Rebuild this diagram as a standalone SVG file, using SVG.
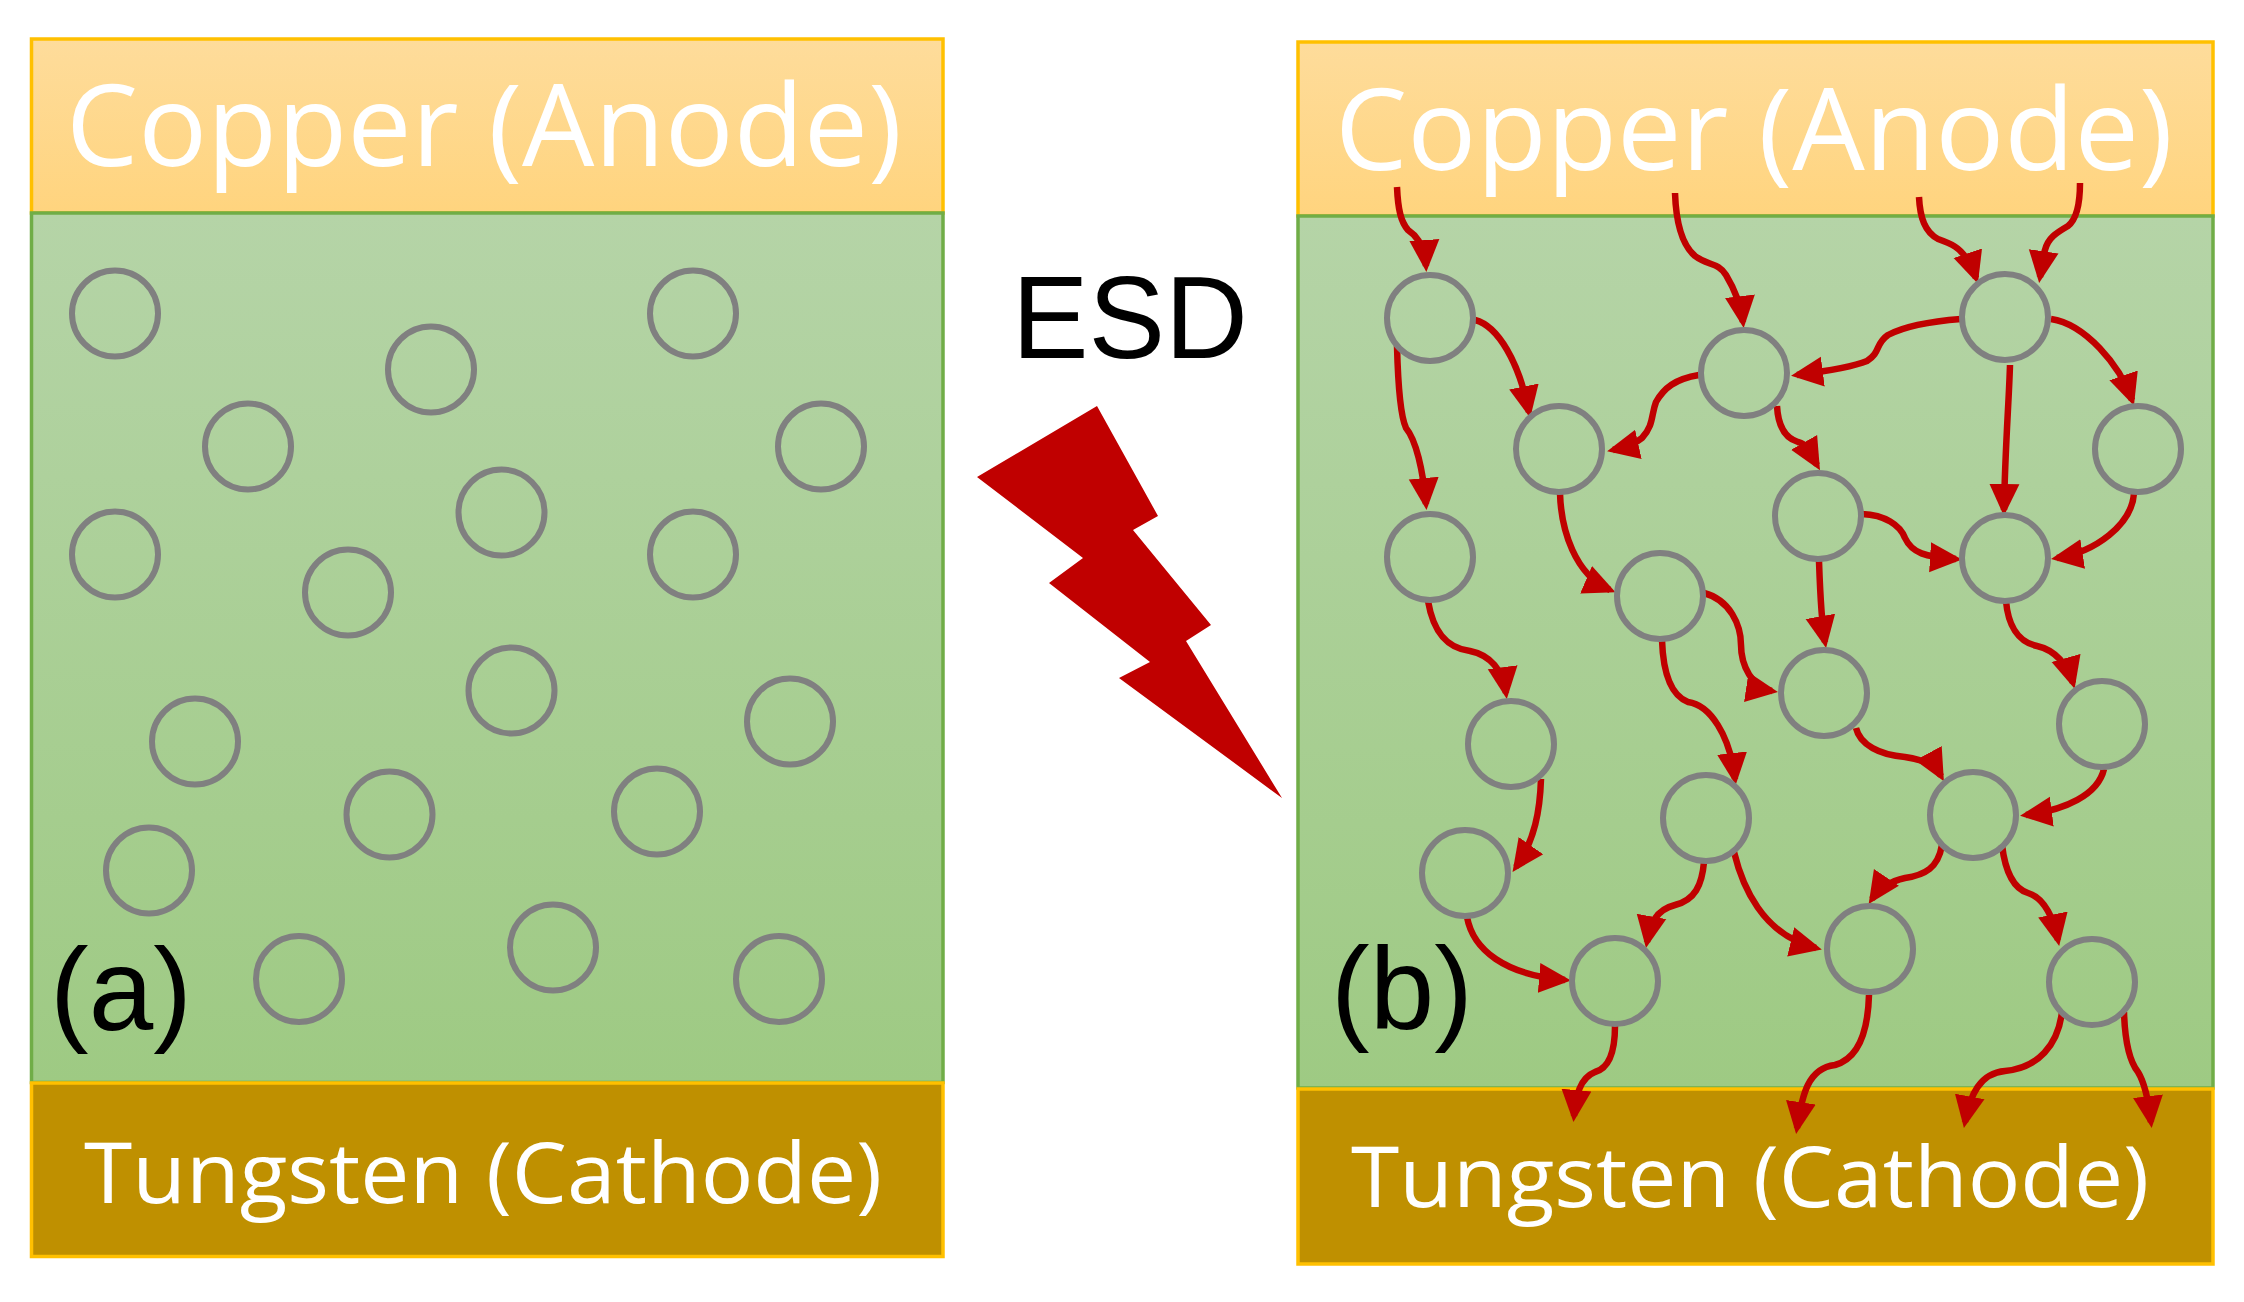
<svg xmlns="http://www.w3.org/2000/svg" width="2244" height="1302" viewBox="0 0 2244 1302">
<style>
.cu{fill:url(#cuG);stroke:#FFC000;stroke-width:3.5}
.ox{fill:url(#oxG);stroke:#70AD47;stroke-width:3.5}
.w{fill:#BF9000;stroke:#FFC000;stroke-width:3.5}
.lab{font-family:"Open Sans","Noto Sans",sans-serif;fill:#fff}
.tag{font-family:"Liberation Sans",Arial,sans-serif;fill:#000;font-size:116px}
.v{fill:none;stroke:#808080;stroke-width:6}
.c path{fill:none;stroke:#C00000;stroke-width:6.5;marker-end:url(#ah)}
</style>
<defs>
<linearGradient id="cuG" x1="0" y1="0" x2="0" y2="1"><stop offset="0" stop-color="#FEDC9B"/><stop offset="1" stop-color="#FFD47E"/></linearGradient>
<linearGradient id="oxG" x1="0" y1="0" x2="0" y2="1"><stop offset="0" stop-color="#B5D4A7"/><stop offset="1" stop-color="#9ECA83"/></linearGradient>
<marker id="ah" markerUnits="userSpaceOnUse" markerWidth="32" markerHeight="32" refX="26" refY="16" orient="auto"><path d="M0,1 L32,16 L0,31 z" fill="#C00000"/></marker>
</defs>
<rect width="2244" height="1302" fill="#fff"/>

<g id="panel-a">
<rect id="a-copper" class="cu" x="31.500" y="39" width="911.500" height="174"/>
<rect id="a-oxide" class="ox" x="31.500" y="213" width="911.500" height="869.500"/>
<rect id="a-tungsten" class="w" x="31.500" y="1083" width="911.500" height="173.500"/>
<text class="lab" x="66" y="166" font-size="113" textLength="836" lengthAdjust="spacingAndGlyphs">Copper (Anode)</text>
<text class="lab" x="84" y="1203" font-size="85" textLength="798" lengthAdjust="spacingAndGlyphs">Tungsten (Cathode)</text>
<text class="tag" x="50" y="1030">(a)</text>
</g>
<g id="a-vacancies">
<circle class="v" cx="115" cy="313.500" r="43"/><circle class="v" cx="693" cy="313.500" r="43"/><circle class="v" cx="431" cy="369.500" r="43"/><circle class="v" cx="248" cy="446.500" r="43"/><circle class="v" cx="821" cy="446.500" r="43"/><circle class="v" cx="501.500" cy="512.500" r="43"/><circle class="v" cx="115" cy="554.500" r="43"/><circle class="v" cx="693" cy="554.500" r="43"/><circle class="v" cx="348" cy="592.500" r="43"/><circle class="v" cx="511.500" cy="690.500" r="43"/><circle class="v" cx="790" cy="721.500" r="43"/><circle class="v" cx="195" cy="741.500" r="43"/><circle class="v" cx="389.500" cy="814.500" r="43"/><circle class="v" cx="657" cy="811.500" r="43"/><circle class="v" cx="149" cy="870.500" r="43"/><circle class="v" cx="553" cy="947.500" r="43"/><circle class="v" cx="299" cy="979" r="43"/><circle class="v" cx="779" cy="979" r="43"/>
</g>

<g id="panel-b">
<rect id="b-copper" class="cu" x="1298" y="42" width="915" height="174"/>
<rect id="b-oxide" class="ox" x="1298" y="216" width="915" height="872"/>
<rect id="b-tungsten" class="w" x="1298" y="1089" width="915" height="175"/>
<text class="lab" x="1335" y="170" font-size="113" textLength="838" lengthAdjust="spacingAndGlyphs">Copper (Anode)</text>
<text class="lab" x="1351" y="1207" font-size="85" textLength="798" lengthAdjust="spacingAndGlyphs">Tungsten (Cathode)</text>
<text class="tag" x="1331" y="1029">(b)</text>
</g>

<g id="esd">
<text x="1012" y="358" font-family="'Liberation Sans',Arial,sans-serif" font-size="116" fill="#000" textLength="236" lengthAdjust="spacingAndGlyphs">ESD</text>
<polygon points="1097,406 1158,516 1133,530 1211,625 1186,641 1282,798 1119,678 1150,662 1049,583 1083,558 977,477" fill="#C00000"/>
</g>

<g id="connectors" class="c">
<path d="M1397,187 C1398,210 1401,222 1408,230 C1420,238 1425,250 1426,266"/>
<path d="M1475,320 C1498,326 1519,362 1529,412"/>
<path d="M1397,346 C1398,385 1400,415 1406,428 C1416,440 1423,470 1426,504"/>
<path d="M1675,193 C1676,222 1682,245 1695,256 C1708,266 1718,262 1726,275 C1735,290 1741,305 1743,322"/>
<path d="M1919,197 C1920,218 1925,232 1938,239 C1952,244 1960,248 1966,258 C1971,266 1974,272 1976,278"/>
<path d="M2080,183 C2080,200 2078,218 2068,226 C2056,233 2048,238 2045,250 C2042,260 2041,270 2040,277"/>
<path d="M1961,319 C1935,321 1905,326 1888,335 C1875,344 1881,352 1867,361 C1850,368 1820,372 1797,375"/>
<path d="M1699,375 C1675,379 1664,388 1656,402 C1651,415 1654,425 1642,438 C1635,444 1622,448 1613,450"/>
<path d="M2051,319 C2085,324 2120,365 2132,400"/>
<path d="M2010,365 C2009,400 2005,450 2004,510"/>
<path d="M2134,493 C2132,525 2095,552 2057,558"/>
<path d="M1777,406 C1778,425 1785,438 1798,442 C1810,445 1813,458 1817,465"/>
<path d="M1862,514 C1885,515 1900,525 1905,538 C1912,553 1925,557 1956,559"/>
<path d="M1819,561 C1820,590 1821,620 1825,642"/>
<path d="M1560,493 C1561,530 1575,575 1610,590"/>
<path d="M1704,593 C1730,600 1741,625 1741,645 C1741,665 1752,688 1772,691"/>
<path d="M1662,640 C1663,670 1670,695 1688,702 C1710,705 1730,735 1735,779"/>
<path d="M1428,601 C1433,630 1445,648 1470,651 C1490,655 1503,670 1506,693"/>
<path d="M2006,601 C2008,625 2018,642 2037,646 C2055,650 2068,665 2073,683"/>
<path d="M1856,728 C1860,745 1880,755 1905,757 C1925,760 1935,765 1941,776"/>
<path d="M2104,769 C2098,795 2065,810 2026,815"/>
<path d="M1541,779 C1540,810 1535,840 1516,867"/>
<path d="M1704,862 C1702,885 1695,900 1675,905 C1655,910 1650,925 1647,942"/>
<path d="M1734,852 C1742,885 1762,935 1816,948"/>
<path d="M1467,917 C1473,950 1505,975 1565,980"/>
<path d="M1942,845 C1938,868 1925,875 1905,878 C1890,881 1878,890 1872,899"/>
<path d="M2002,845 C2005,870 2012,888 2028,893 C2045,898 2054,920 2058,940"/>
<path d="M1615,1026 C1615,1050 1610,1068 1595,1072 C1580,1078 1576,1095 1574,1116"/>
<path d="M1869,995 C1868,1030 1860,1058 1835,1065 C1808,1068 1802,1095 1797,1128"/>
<path d="M2062,1012 C2058,1045 2038,1068 2005,1071 C1980,1073 1970,1095 1965,1122"/>
<path d="M2124,1012 C2125,1045 2130,1062 2138,1072 C2146,1085 2149,1105 2151,1122"/>
</g>

<g id="node-1"><circle class="v" cx="1430" cy="318" r="43"/></g>
<g id="node-2"><circle class="v" cx="1744" cy="373" r="43"/></g>
<g id="node-3"><circle class="v" cx="2005" cy="317" r="43"/></g>
<g id="node-4"><circle class="v" cx="1559" cy="449" r="43"/></g>
<g id="node-5"><circle class="v" cx="2138" cy="449" r="43"/></g>
<g id="node-6"><circle class="v" cx="1818" cy="516" r="43"/></g>
<g id="node-7"><circle class="v" cx="2005" cy="558" r="43"/></g>
<g id="node-8"><circle class="v" cx="1430" cy="557" r="43"/></g>
<g id="node-9"><circle class="v" cx="1660" cy="596" r="43"/></g>
<g id="node-10"><circle class="v" cx="1824" cy="693" r="43"/></g>
<g id="node-11"><circle class="v" cx="2102" cy="724" r="43"/></g>
<g id="node-12"><circle class="v" cx="1511" cy="744" r="43"/></g>
<g id="node-13"><circle class="v" cx="1706" cy="818" r="43"/></g>
<g id="node-14"><circle class="v" cx="1973" cy="815" r="43"/></g>
<g id="node-15"><circle class="v" cx="1465" cy="873" r="43"/></g>
<g id="node-16"><circle class="v" cx="1870" cy="949" r="43"/></g>
<g id="node-17"><circle class="v" cx="1615" cy="981" r="43"/></g>
<g id="node-18"><circle class="v" cx="2092" cy="982" r="43"/></g>
</svg>
